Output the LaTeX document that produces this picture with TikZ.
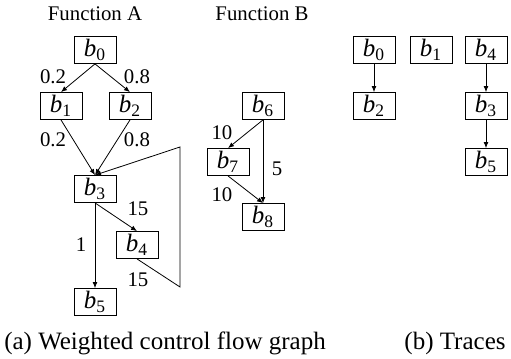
\documentclass[tikz,border=0pt]{standalone}
\usepackage{fontspec}
\setmainfont{Liberation Serif}
\usetikzlibrary{arrows.meta,positioning}
\newcommand{\blkname}[1]{$\mathit{b}_{\mathrm{#1}}$}

\begin{document}
\begin{tikzpicture}[x=0.5pt,y=-0.5pt,
  blk/.style={draw,thin,minimum width=21pt,minimum height=13.5pt,inner sep=0pt,
    font=\fontsize{12.5}{14}\selectfont},
  wt/.style={font=\fontsize{10.4}{12}\selectfont,inner sep=0pt},
  captxt/.style={font=\fontsize{12.5}{15}\selectfont,inner sep=0pt},
  arr/.style={thin,-{Latex[length=3pt,width=2.4pt]}}]
  \useasboundingbox (0,0) rectangle (511,359);
  \node[wt] (fa) at (95,14) {Function A};
  \node[wt] (fb) at (262,14) {Function B};
  \foreach \n/\x/\y/\i in {a0/95/50/0,a1/61/106/1,a2/130/106/2,a3/95/189/3,a4/137/245/4,a5/95/302/5,
    b6/263/106/6,b7/228/162/7,b8/263/217/8,
    t0/374/50/0,t1/431/50/1,t4/486/50/4,t2/374/106/2,t3/486/106/3,t5/486/162/5}
    \node[blk] (\n) at (\x,\y) {\blkname{\i}};
  \foreach \n/\x/\y/\l in {w01/53/77/0.2,w02/137/77/0.8,w13/53/140/0.2,w23/137/140/0.8,
    w34/138/209/15,w35/81/245/1,w43/138/280/15,w67/222/133/10,w68/277/169/5,w78/222/195/10}
    \node[wt] (\n) at (\x,\y) {\l};
  \foreach \s/\t in {a0/a1,a0/a2,a1/a3,a2/a3,a3/a4,a3/a5,b6/b7,b6/b8,b7/b8,t0/t2,t4/t3,t3/t5}
    \draw[arr] (\s.south) -- (\t.north);
  \coordinate (lpb) at (180,287);
  \coordinate (lpt) at (180,147);
  \draw[arr] (a4.south) -- (lpb) -- (lpt) -- (a3.north);
  \node[captxt] (capa) at (165,343) {(a) Weighted control flow graph};
  \node[captxt] (capb) at (455,343) {(b) Traces};
\end{tikzpicture}
\end{document}
